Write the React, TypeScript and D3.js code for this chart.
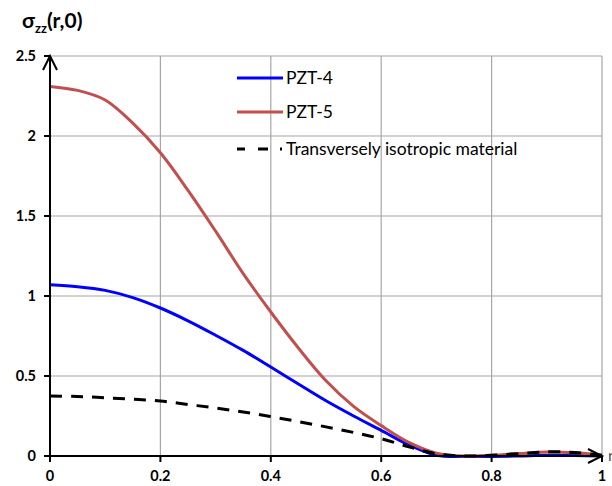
import React from "react";
import * as d3 from "d3";

const rValues = [0, 0.05, 0.1, 0.15, 0.2, 0.25, 0.3, 0.35, 0.4, 0.45, 0.5, 0.55, 0.6, 0.65, 0.7, 0.75, 0.8, 0.85, 0.9, 0.95, 1.0];
const pzt4 = [1.07, 1.058, 1.035, 0.99, 0.925, 0.845, 0.755, 0.66, 0.556, 0.45, 0.345, 0.25, 0.16, 0.07, 0.005, -0.003, -0.003, 0.0, 0.004, 0.003, 0.0];
const pzt5 = [2.31, 2.285, 2.225, 2.08, 1.895, 1.66, 1.405, 1.14, 0.9, 0.675, 0.47, 0.31, 0.19, 0.085, 0.018, 0.0, 0.005, 0.015, 0.025, 0.02, 0.005];
const iso = [0.375, 0.372, 0.364, 0.355, 0.344, 0.322, 0.3, 0.275, 0.246, 0.215, 0.182, 0.147, 0.108, 0.058, 0.014, 0.0, 0.005, 0.015, 0.026, 0.022, 0.005];
const xTicks = [0, 0.2, 0.4, 0.6, 0.8, 1];
const yTicks = [0, 0.5, 1, 1.5, 2, 2.5];
const xTickLabels = ["0", "0.2", "0.4", "0.6", "0.8", "1"];
const yTickLabels = ["0", "0.5", "1", "1.5", "2", "2.5"];

const series = [
  { name: "PZT-4", values: pzt4, color: "#0000ff", dash: "" },
  { name: "PZT-5", values: pzt5, color: "#c0504d", dash: "" },
  { name: "Transversely isotropic material", values: iso, color: "#000000", dash: "12,9" },
];

export default function App() {
  const W = 612, H = 486;
  const x = d3.scaleLinear().domain([0, 1]).range([50, 602]);
  const y = d3.scaleLinear().domain([0, 2.5]).range([456, 56]);
  const font = "Lato, 'Open Sans', sans-serif";
  const line = d3
    .line<number>()
    .x((_, i) => x(rValues[i]))
    .y((d) => y(d))
    .curve(d3.curveCatmullRom.alpha(0.5));

  const legendY = [78, 112, 149];

  return (
    <svg width={W} height={H} style={{ position: "absolute", left: 0, top: 0 }} fontFamily={font}>
      <rect width={W} height={H} fill="#fff" />
      {/* grid */}
      {yTicks.filter((t) => t > 0).map((t) => (
        <line key={"gy" + t} x1={x(0)} x2={x(1)} y1={y(t)} y2={y(t)} stroke="#a6a6a6" strokeWidth={1.2} />
      ))}
      {xTicks.filter((t) => t > 0).map((t) => (
        <line key={"gx" + t} x1={x(t)} x2={x(t)} y1={y(0)} y2={y(2.5)} stroke="#a6a6a6" strokeWidth={1.2} />
      ))}
      {/* series */}
      {series.map((s) => (
        <path
          key={s.name}
          d={line(s.values) || ""}
          fill="none"
          stroke={s.color}
          strokeWidth={3}
          strokeDasharray={s.dash || undefined}
        />
      ))}
      {/* axes */}
      <line x1={x(0)} x2={x(0)} y1={y(0) + 1} y2={y(2.5)} stroke="#000" strokeWidth={2} />
      <line x1={x(0) - 1} x2={x(1)} y1={y(0)} y2={y(0)} stroke="#000" strokeWidth={2} />
      <path d={`M${x(0) - 7},${y(2.5) + 14} L${x(0)},${y(2.5)} L${x(0) + 7},${y(2.5) + 14}`} fill="none" stroke="#000" strokeWidth={2} />
      <path d={`M${x(1) - 14},${y(0) - 7} L${x(1)},${y(0)} L${x(1) - 14},${y(0) + 7}`} fill="none" stroke="#000" strokeWidth={2} />
      {/* y ticks */}
      {yTicks.map((t, i) => (
        <g key={"yt" + t}>
          <line x1={x(0) - 6} x2={x(0)} y1={y(t)} y2={y(t)} stroke="#000" strokeWidth={2} />
          <text x={36} y={y(t)} dy="0.35em" textAnchor="end" fontSize={14.5} fontWeight="bold">
            {yTickLabels[i]}
          </text>
        </g>
      ))}
      {/* x ticks */}
      {xTicks.map((t, i) => (
        <g key={"xt" + t}>
          <line x1={x(t)} x2={x(t)} y1={y(0)} y2={y(0) + 6} stroke="#000" strokeWidth={2} />
          <text x={x(t)} y={y(0) + 25} textAnchor="middle" fontSize={14.5} fontWeight="bold">
            {xTickLabels[i]}
          </text>
        </g>
      ))}
      <text x={608} y={455} dy="0.35em" fontSize={16} fill="#555">r</text>
      {/* title */}
      <text x={22} y={28} fontSize={21} fontWeight="bold">
        σ<tspan fontSize={13} dy={5}>zz</tspan>
        <tspan dy={-5}>(r,0)</tspan>
      </text>
      {/* legend */}
      {series.map((s, i) => (
        <g key={"lg" + s.name}>
          {s.dash ? (
            <>
              <line x1={237} x2={245} y1={legendY[i]} y2={legendY[i]} stroke="#000" strokeWidth={3} />
              <line x1={258} x2={268} y1={legendY[i]} y2={legendY[i]} stroke="#000" strokeWidth={3} />
              <line x1={280} x2={282} y1={legendY[i]} y2={legendY[i]} stroke="#000" strokeWidth={3} />
            </>
          ) : (
            <line x1={237} x2={283} y1={legendY[i]} y2={legendY[i]} stroke={s.color} strokeWidth={3} />
          )}
          <text x={286} y={legendY[i]} dy="0.35em" fontSize={17.5}>
            {s.name}
          </text>
        </g>
      ))}
    </svg>
  );
}
